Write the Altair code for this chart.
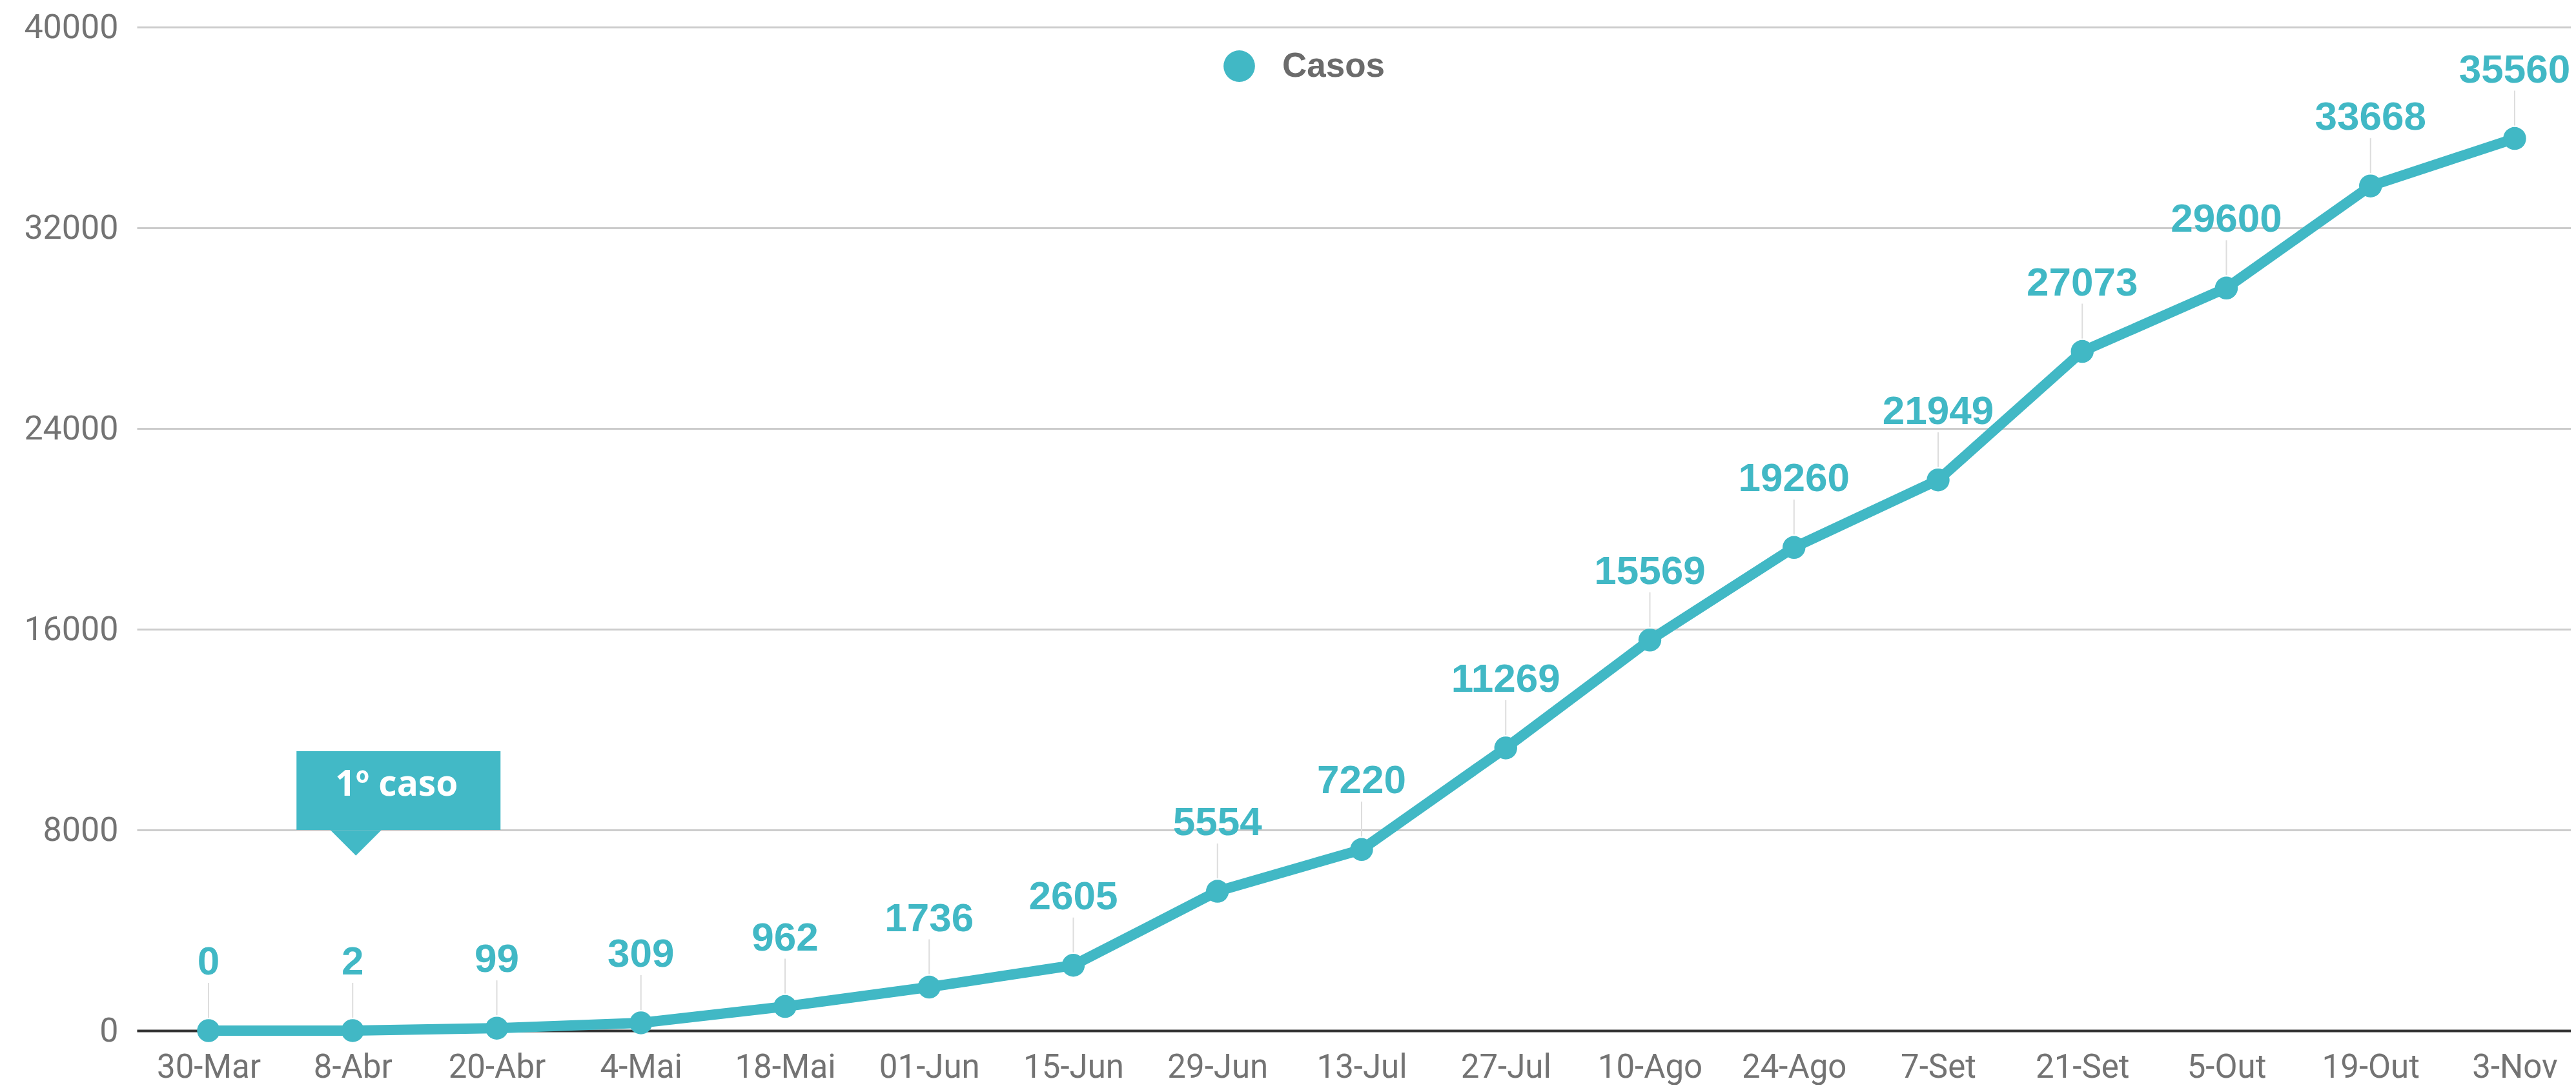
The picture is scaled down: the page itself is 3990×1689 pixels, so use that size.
import altair as alt
import pandas as pd
import json

# ---- data ----
datas = ["30-Mar", "8-Abr", "20-Abr", "4-Mai", "18-Mai", "01-Jun", "15-Jun",
         "29-Jun", "13-Jul", "27-Jul", "10-Ago", "24-Ago", "7-Set", "21-Set",
         "5-Out", "19-Out", "3-Nov"]
casos = [0, 2, 99, 309, 962, 1736, 2605, 5554, 7220, 11269, 15569, 19260,
         21949, 27073, 29600, 33668, 35560]
serie = "Casos"
y_ticks = [0, 8000, 16000, 24000, 32000, 40000]

annot_date = ["8-Abr"]
annot_text = ["1º caso"]
annot_y0 = [8000]
annot_y1 = [11140]

TEAL = "#41b8c5"
GRAY = "#737373"

# layout (pixels)
W, H = 3770, 1555
LEFT_GAP, STEP = 111, 223.25
x_lo = -LEFT_GAP / STEP
x_hi = (W - LEFT_GAP) / STEP

df = pd.DataFrame({"idx": list(range(len(datas))), "data": datas,
                   "casos": casos, "serie": [serie] * len(datas)})
ann = pd.DataFrame({"idx": [datas.index(d) for d in annot_date],
                    "label": annot_text, "y0": annot_y0, "y1": annot_y1})

label_expr = json.dumps(datas) + "[datum.value]"

x_scale = alt.Scale(domain=[x_lo, x_hi], nice=False, zero=False)
x_enc = alt.X("idx:Q", scale=x_scale,
              axis=alt.Axis(title=None, values=list(range(len(datas))),
                            labelExpr=label_expr, labelAngle=0, ticks=False,
                            grid=False, domainColor="#333333", domainWidth=4,
                            labelFont="Roboto", labelFontSize=51,
                            labelColor=GRAY, labelPadding=57,
                            labelBaseline="middle", labelFlush=False,
                            labelOverlap=False))
y_enc = alt.Y("casos:Q",
              scale=alt.Scale(domain=[0, 40000], nice=False),
              axis=alt.Axis(title=None, values=y_ticks, format="d", ticks=False,
                            domain=False, gridColor="#cccccc", gridWidth=3,
                            labelFont="Roboto", labelFontSize=52,
                            labelColor=GRAY, labelPadding=29))

base = alt.Chart(df)

line = base.mark_line(color=TEAL, strokeWidth=16).encode(x=x_enc, y=y_enc)

leaders = base.mark_rule(color="#dddddd", strokeWidth=2, yOffset=-20,
                         y2Offset=-74).encode(x=x_enc, y=y_enc, y2="casos:Q")

points = base.mark_point(filled=True, opacity=1, size=1257, shape="circle").encode(
    x=x_enc, y=y_enc,
    color=alt.Color("serie:N", scale=alt.Scale(range=[TEAL]),
                    legend=alt.Legend(title=None, orient="none",
                                      legendX=1681, legendY=34, padding=0,
                                      symbolType="circle", symbolSize=2376,
                                      symbolStrokeWidth=0,
                                      labelFont="Liberation Sans",
                                      labelFontWeight="bold",
                                      labelFontSize=53, labelColor="#6b6b6b",
                                      labelOffset=40)))

labels = base.mark_text(font="Liberation Sans", fontWeight="bold", fontSize=62,
                        color=TEAL, dy=-106, baseline="middle").encode(
    x=x_enc, y=y_enc, text="casos:Q")

annb = alt.Chart(ann)
box = annb.mark_rect(color="#42b9c6", width=316, xOffset=71).encode(
    x=alt.X("idx:Q", scale=x_scale), y=alt.Y("y0:Q"), y2="y1:Q")
tri = annb.mark_point(filled=True, opacity=1, color="#42b9c6",
                      shape="M-1,-0.5L1,-0.5L0,0.5Z", size=6241,
                      xOffset=5, yOffset=20).encode(
    x=alt.X("idx:Q", scale=x_scale), y=alt.Y("y0:Q"))
atext = annb.mark_text(font="Open Sans", fontWeight="bold", fontSize=55,
                       color="white", baseline="middle", xOffset=68,
                       yOffset=-70).encode(
    x=alt.X("idx:Q", scale=x_scale), y=alt.Y("y0:Q"), text="label:N")

chart = alt.layer(line, leaders, points, labels, box, tri, atext).properties(
    width=W, height=H,
    autosize=alt.AutoSizeParams(type="none"),
    padding={"left": 204, "top": 34, "right": 0, "bottom": 84},
    background="white",
).configure_view(stroke=None)

chart.save("out.html", embed_options={"renderer": "svg", "actions": False})
